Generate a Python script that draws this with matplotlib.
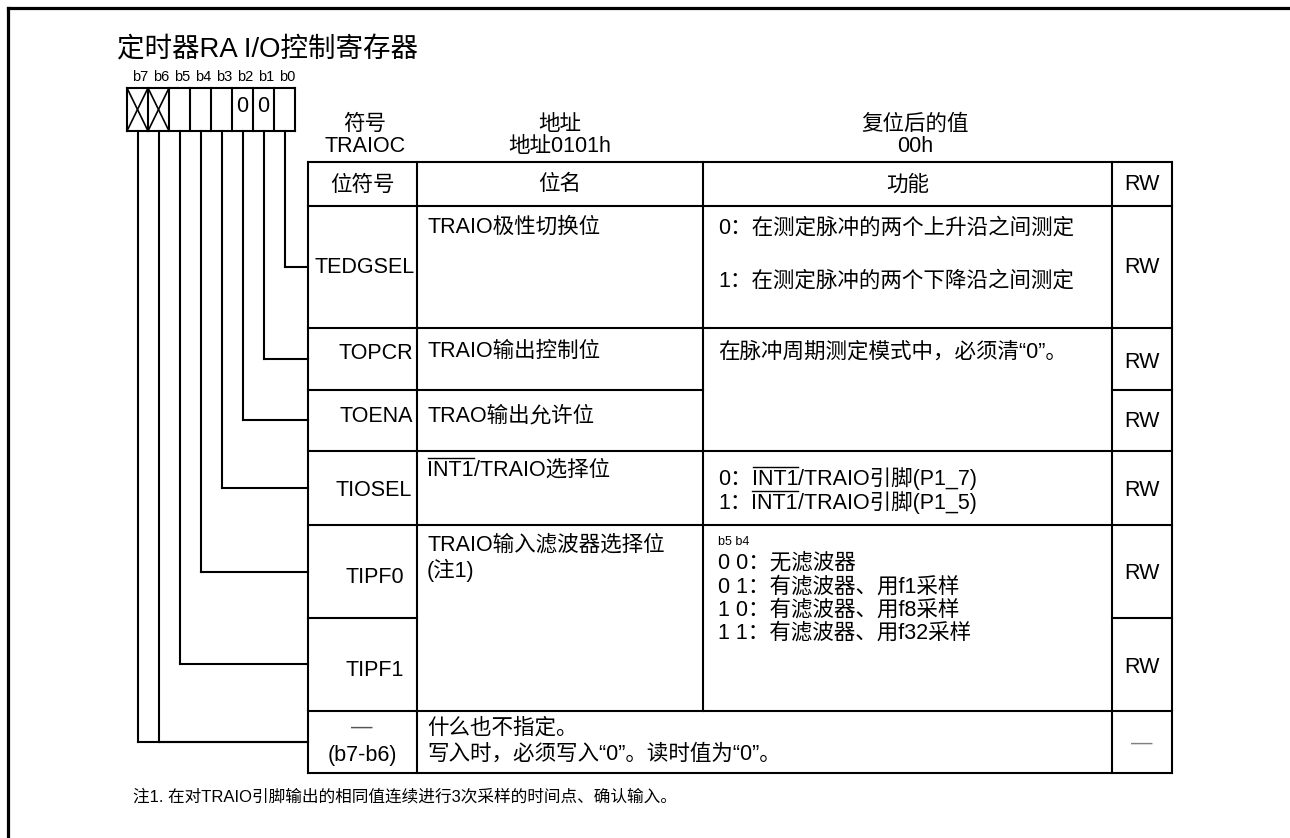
import matplotlib
matplotlib.use('Agg')
import matplotlib.pyplot as plt

plt.rcParams['font.family'] = ['Liberation Sans', 'Noto Sans CJK SC']

# ---- content of the register diagram ----
title = '定时器RA I/O控制寄存器'
bit_labels = ['b7', 'b6', 'b5', 'b4', 'b3', 'b2', 'b1', 'b0']
bit_fixed = ['X', 'X', '', '', '', '0', '0', '']   # X = reserved bit
info_titles = ['符号', '地址', '复位后的值']
info_values = ['TRAIOC', '地址0101h', '00h']
header = ['位符号', '位名', '功能', 'RW']
bit_symbols = ['TEDGSEL', 'TOPCR', 'TOENA', 'TIOSEL', 'TIPF0', 'TIPF1']
bit_names = [['TRAIO极性切换位'], ['TRAIO输出控制位'], ['TRAO输出允许位'],
             ['~INT1~/TRAIO选择位'], ['TRAIO输入滤波器选择位', '(注1)']]
func_tedgsel = ['0：在测定脉冲的两个上升沿之间测定', '1：在测定脉冲的两个下降沿之间测定']
func_topcr = ['在脉冲周期测定模式中，必须清“0”。']
func_tiosel = ['0：~INT1~/TRAIO引脚(P1_7)', '1：~INT1~/TRAIO引脚(P1_5)']
func_tipf_head = 'b5 b4'
func_tipf = ['0 0：无滤波器', '0 1：有滤波器、用f1采样', '1 0：有滤波器、用f8采样', '1 1：有滤波器、用f32采样']
reserved_symbol = ['—', '(b7-b6)']
reserved_text = ['什么也不指定。', '写入时，必须写入“0”。读时值为“0”。']
rw = ['RW', 'RW', 'RW', 'RW', 'RW', 'RW', '—']
note = '注1. 在对TRAIO引脚输出的相同值连续进行3次采样的时间点、确认输入。'

# ---- layout (pixel coordinates, y downwards) ----
W, H, DPI = 1290, 838, 100
fig = plt.figure(figsize=(W / DPI, H / DPI), dpi=DPI)
ax = fig.add_axes([0, 0, 1, 1])
ax.set_xlim(0, W)
ax.set_ylim(H, 0)
ax.axis('off')
renderer = fig.canvas.get_renderer()

FS = 15.5
LW = 1.5


def line(xs, ys, lw=LW, color='black'):
    ax.plot(xs, ys, color=color, lw=lw, solid_capstyle='projecting')


def put(x, y, s, size=FS, ha='left', color='black'):
    # text pieces between ~ ~ get an overline
    parts = s.split('~')
    if len(parts) == 1:
        ax.text(x, y, s, fontsize=size, ha=ha, va='center', color=color)
        return
    inv = ax.transData.inverted()
    for k, part in enumerate(parts):
        if not part:
            continue
        t = ax.text(x, y, part, fontsize=size, ha='left', va='center', color=color)
        bb = t.get_window_extent(renderer)
        x0 = inv.transform([bb.x0, bb.y0])[0]
        x1 = inv.transform([bb.x1, bb.y1])[0]
        if k % 2 == 1:
            yo = y - 0.56 * size * DPI / 72
            line([x0 + 1, x1], [yo, yo], lw=1.0)
        x = x1


# outer frame (top and left only)
line([8, W], [8, 8], lw=2.3)
line([8, 8], [8, H], lw=2.3)

# title
put(117, 50, title, size=19.8)

# bit box
bx0, by0, cw, bh = 127, 88, 21, 43
for i, lab in enumerate(bit_labels):
    put(bx0 + cw * i + cw / 2 + 3, 77, lab, size=10.5, ha='center')
for i in range(9):
    line([bx0 + cw * i] * 2, [by0, by0 + bh])
line([bx0, bx0 + 8 * cw], [by0, by0])
line([bx0, bx0 + 8 * cw], [by0 + bh, by0 + bh])
for i, v in enumerate(bit_fixed):
    cx = bx0 + cw * i
    if v == 'X':
        line([cx, cx + cw], [by0, by0 + bh], lw=1.2)
        line([cx, cx + cw], [by0 + bh, by0], lw=1.2)
    elif v:
        put(cx + cw / 2, by0 + 18, v, ha='center')

# connectors from each bit to its row
turn_y = [742, 742, 664, 572, 488, 420, 359, 267]   # b7 .. b0
cols = [308, 417, 703, 1112, 1172]
for i, ty in enumerate(turn_y):
    cx = bx0 + cw * i + cw / 2
    line([cx, cx], [by0 + bh, ty])
    line([cx, cols[0]], [ty, ty])

# register info above table
for x, t, v in zip([365, 560, 915], info_titles, info_values):
    put(x, 124, t, ha='center')
    put(x, 146, v, ha='center')

# table grid
rows = [162, 206, 328, 390, 451, 525, 618, 711, 773]
line([cols[0], cols[-1]], [rows[0], rows[0]])
line([cols[0], cols[-1]], [rows[-1], rows[-1]])
line([cols[0]] * 2, [rows[0], rows[-1]])
line([cols[1]] * 2, [rows[0], rows[-1]])
line([cols[2]] * 2, [rows[0], rows[7]])
line([cols[3]] * 2, [rows[0], rows[-1]])
line([cols[4]] * 2, [rows[0], rows[-1]])
for r in [1, 2, 4, 5, 7]:
    line([cols[0], cols[-1]], [rows[r]] * 2)
line([cols[0], cols[2]], [rows[3]] * 2)
line([cols[3], cols[4]], [rows[3]] * 2)
line([cols[0], cols[1]], [rows[6]] * 2)
line([cols[3], cols[4]], [rows[6]] * 2)

# header row
for k, h in enumerate(header):
    put((cols[k] + cols[k + 1]) / 2, 185, h, ha='center')

# bit symbols (right aligned)
sym_y = [267, 353, 416, 490, 577, 670]
sym_x = [415, 413, 413, 412, 404, 404]
for s, x, y in zip(bit_symbols, sym_x, sym_y):
    put(x, y, s, ha='right')
put(362, 727, reserved_symbol[0], ha='center', color='#555555')
put(362, 755, reserved_symbol[1], ha='center')

# bit names
name_y = [[227], [351], [416], [470], [545, 570]]
for lines_, ys in zip(bit_names, name_y):
    for s, y in zip(lines_, ys):
        put(427, y, s)
for s, y in zip(reserved_text, [728, 754]):
    put(427, y, s)

# functions
fx = 718
for s, y in zip(func_tedgsel, [228, 281]):
    put(fx, y, s)
for s, y in zip(func_topcr, [352]):
    put(fx, y, s)
for s, y in zip(func_tiosel, [479, 503]):
    put(fx, y, s)
put(fx, 542, func_tipf_head, size=9)
for s, y in zip(func_tipf, [563, 587, 610, 633]):
    put(fx, y, s)

# RW column
rw_y = [267, 362, 421, 490, 573, 667, 743]
for s, y in zip(rw, rw_y):
    put((cols[3] + cols[4]) / 2, y, s, ha='center',
        color='#808080' if s == '—' else 'black')

# note
put(133, 797, note, size=12)

fig.savefig('out.png', dpi=DPI)
